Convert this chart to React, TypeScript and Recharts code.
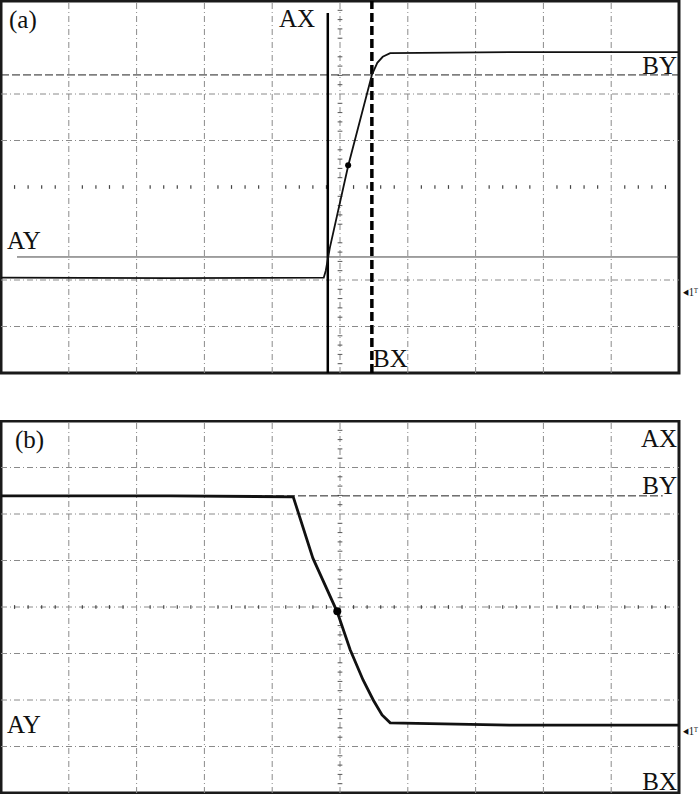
import React from "react";
import {
  LineChart,
  Line,
  XAxis,
  YAxis,
  ReferenceLine,
  ReferenceArea,
  ReferenceDot,
} from "recharts";

// screen is 10 x 8 divisions, x in [0, 10], y in [-4, 4]
const gridX = [1, 2, 3, 4, 6, 7, 8, 9];
const gridYA = [2, 1, -2, -3];
const gridYB = [3, 2, 1, -1, -2, -3];

// minor ticks along the centre graticule lines
const minorX = [
  0.2, 0.4, 0.6, 0.8, 1.2, 1.4, 1.6, 1.8, 2.2, 2.4, 2.6, 2.8, 3.2, 3.4, 3.6,
  3.8, 4.2, 4.4, 4.6, 4.8, 5.2, 5.4, 5.6, 5.8, 6.2, 6.4, 6.6, 6.8, 7.2, 7.4,
  7.6, 7.8, 8.2, 8.4, 8.6, 8.8, 9.2, 9.4, 9.6, 9.8,
];
const minorY = [
  3.8, 3.6, 3.4, 3.2, 2.8, 2.6, 2.4, 2.2, 1.8, 1.6, 1.4, 1.2, 0.8, 0.6, 0.4,
  0.2, -0.2, -0.4, -0.6, -0.8, -1.2, -1.4, -1.6, -1.8, -2.2, -2.4, -2.6, -2.8,
  -3.2, -3.4, -3.6, -3.8,
];

// trace (a): rising edge
const traceAx = [0, 2.5, 4.76, 4.79, 4.85, 5.12, 5.47, 5.55, 5.63, 5.74, 7.5, 10];
const traceAy = [-1.95, -1.96, -1.95, -1.8, -1.31, 0.45, 2.41, 2.67, 2.8, 2.88, 2.9, 2.9];

// trace (b): falling edge
const traceBx = [0, 2.5, 4.31, 4.6, 4.96, 5.15, 5.34, 5.49, 5.62, 5.74, 7.5, 10];
const traceBy = [2.39, 2.39, 2.37, 1.05, -0.11, -0.92, -1.57, -2.0, -2.32, -2.49, -2.54, -2.54];

// cursors
const cursorA = { ax: 4.82, axTop: 3.74, bx: 5.47, by: 2.41, ay: -1.505, ayStart: 0.236 };
const cursorB = { by: 2.39, byEnd: 9.76 };
const markA = { x: 5.12, y: 0.47 };
const markB = { x: 4.96, y: -0.09 };

const dataA = traceAx.map((x, i) => ({ x, y: traceAy[i] }));
const dataB = traceBx.map((x, i) => ({ x, y: traceBy[i] }));

const W = 682;
const H = 375;
const margin = { top: 1, right: 3, bottom: 2, left: 1 };
const gridStroke = "#8a8a8a";
const gridDash = "6 3 1 3";

function Graticule(gridY: number[], centerLine: boolean) {
  return [
    ...gridX.map((v) => (
      <ReferenceLine key={"gx" + v} x={v} stroke={gridStroke} strokeDasharray={gridDash} />
    )),
    ...gridY.map((v) => (
      <ReferenceLine key={"gy" + v} y={v} stroke={gridStroke} strokeDasharray={gridDash} />
    )),
    <ReferenceLine key="cx" x={5} stroke={gridStroke} strokeDasharray={gridDash} />,
    centerLine ? (
      <ReferenceLine key="cy" y={0} stroke={gridStroke} strokeDasharray={gridDash} />
    ) : null,
    ...minorY.map((v) => (
      <ReferenceLine
        key={"my" + v}
        segment={[
          { x: 4.965, y: v },
          { x: 5.035, y: v },
        ]}
        stroke="#555"
      />
    )),
    ...minorX.map((v) => (
      <ReferenceLine
        key={"mx" + v}
        segment={[
          { x: v, y: -0.04 },
          { x: v, y: 0.04 },
        ]}
        stroke="#444"
        strokeWidth={1.2}
      />
    )),
  ];
}

function Axes() {
  return [
    <XAxis key="x" type="number" dataKey="x" domain={[0, 10]} hide allowDataOverflow />,
    <YAxis key="y" type="number" dataKey="y" domain={[-4, 4]} hide allowDataOverflow />,
  ];
}

function Frame() {
  return (
    <ReferenceArea
      x1={0}
      x2={10}
      y1={-4}
      y2={4}
      fill="none"
      stroke="#1a1a1a"
      strokeWidth={3}
      ifOverflow="visible"
    />
  );
}

const textStyle: React.CSSProperties = {
  fontFamily: "'Liberation Serif', 'Times New Roman', serif",
  fontSize: 25,
  fill: "#111",
};
const markerStyle: React.CSSProperties = { ...textStyle, fontSize: 13 };

export default function App() {
  return (
    <div style={{ position: "absolute", left: 0, top: 0, width: 700, height: 794, background: "#fff" }}>
      <div style={{ position: "absolute", left: 0, top: 0 }}>
        <LineChart width={W} height={H} margin={margin}>
          {Axes()}
          {Graticule(gridYA, false)}
          <ReferenceLine y={cursorA.by} stroke="#222" strokeDasharray="8 3" />
          <ReferenceLine
            segment={[
              { x: cursorA.ayStart, y: cursorA.ay },
              { x: 10, y: cursorA.ay },
            ]}
            stroke="#444"
          />
          <ReferenceLine x={cursorA.bx} stroke="#000" strokeWidth={3.5} strokeDasharray="9 4" />
          <ReferenceLine
            segment={[
              { x: cursorA.ax, y: cursorA.axTop },
              { x: cursorA.ax, y: -4 },
            ]}
            stroke="#000"
            strokeWidth={2.5}
          />
          <Line
            data={dataA}
            dataKey="y"
            type="linear"
            stroke="#111"
            strokeWidth={1.8}
            dot={false}
            isAnimationActive={false}
          />
          <ReferenceDot x={markA.x} y={markA.y} r={3} fill="#000" stroke="none" />
          {Frame()}
        </LineChart>
      </div>
      <div style={{ position: "absolute", left: 0, top: 420 }}>
        <LineChart width={W} height={H} margin={margin}>
          {Axes()}
          {Graticule(gridYB, true)}
          <ReferenceLine
            segment={[
              { x: 0, y: cursorB.by },
              { x: cursorB.byEnd, y: cursorB.by },
            ]}
            stroke="#222"
            strokeDasharray="8 3"
          />
          <Line
            data={dataB}
            dataKey="y"
            type="linear"
            stroke="#111"
            strokeWidth={2.8}
            dot={false}
            isAnimationActive={false}
          />
          <ReferenceDot x={markB.x} y={markB.y} r={4} fill="#000" stroke="none" />
          {Frame()}
        </LineChart>
      </div>
      <svg
        width={700}
        height={794}
        style={{ position: "absolute", left: 0, top: 0, pointerEvents: "none" }}
      >
        <text x={9} y={28} style={textStyle}>(a)</text>
        <text x={279} y={27} style={textStyle}>AX</text>
        <text x={677} y={74} textAnchor="end" style={textStyle}>BY</text>
        <text x={7} y={249} style={textStyle}>AY</text>
        <text x={373} y={367} style={textStyle}>BX</text>
        <text x={683} y={296} textLength={15} lengthAdjust="spacingAndGlyphs" style={markerStyle}>◂1ᵀ</text>

        <text x={15} y={448} style={textStyle}>(b)</text>
        <text x={677} y={447} textAnchor="end" style={textStyle}>AX</text>
        <text x={677} y={494} textAnchor="end" style={textStyle}>BY</text>
        <text x={7} y={733} style={textStyle}>AY</text>
        <text x={677} y={790} textAnchor="end" style={textStyle}>BX</text>
        <text x={683} y={735} textLength={15} lengthAdjust="spacingAndGlyphs" style={markerStyle}>◂1ᵀ</text>
      </svg>
    </div>
  );
}
